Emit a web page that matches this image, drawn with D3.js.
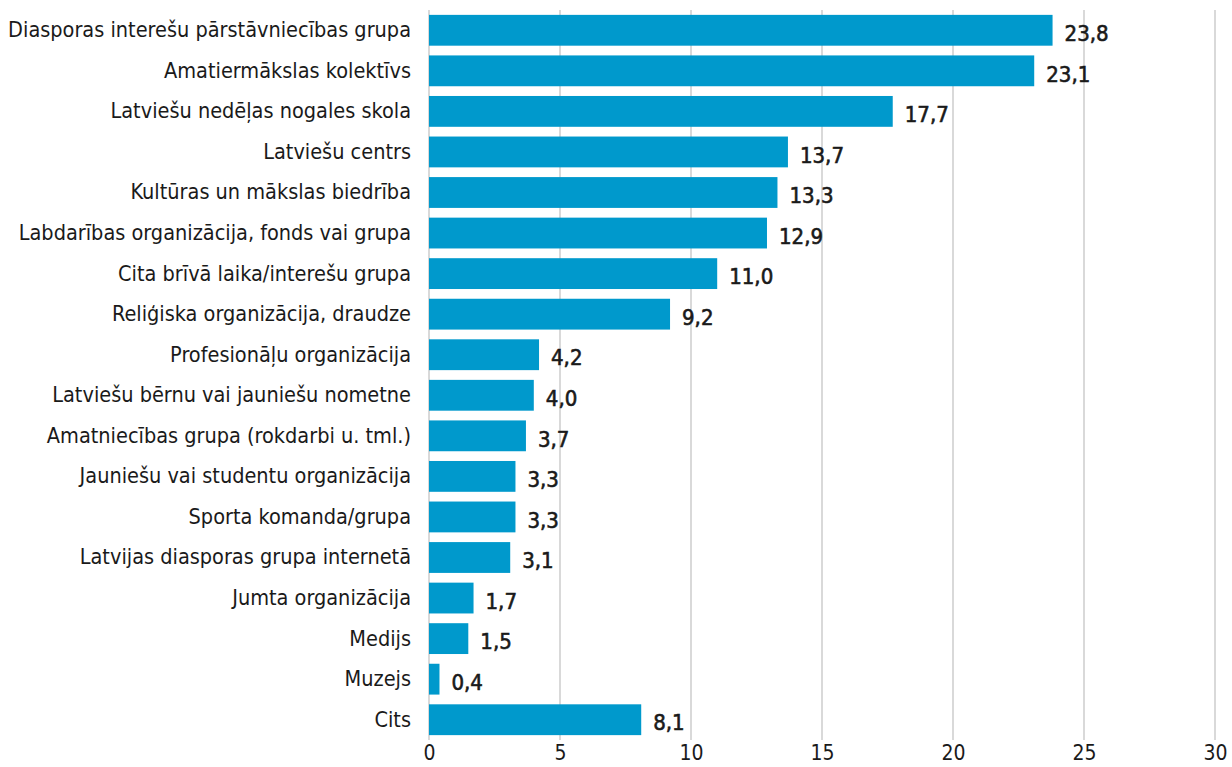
<!DOCTYPE html>
<html>
<head>
<meta charset="utf-8">
<script src="https://cdn.jsdelivr.net/npm/d3@7"></script>
<style>
  body { margin: 0; background: #fff; }
  text { font-family: "DejaVu Sans Condensed", "Liberation Sans Narrow", sans-serif; fill: #1a1a1a; }
</style>
</head>
<body>
<svg width="1232" height="767"></svg>
<script>
const categories = [
  "Diasporas interešu pārstāvniecības grupa",
  "Amatiermākslas kolektīvs",
  "Latviešu nedēļas nogales skola",
  "Latviešu centrs",
  "Kultūras un mākslas biedrība",
  "Labdarības organizācija, fonds vai grupa",
  "Cita brīvā laika/interešu grupa",
  "Reliģiska organizācija, draudze",
  "Profesionāļu organizācija",
  "Latviešu bērnu vai jauniešu nometne",
  "Amatniecības grupa (rokdarbi u. tml.)",
  "Jauniešu vai studentu organizācija",
  "Sporta komanda/grupa",
  "Latvijas diasporas grupa internetā",
  "Jumta organizācija",
  "Medijs",
  "Muzejs",
  "Cits"
]
const values = [23.8, 23.1, 17.7, 13.7, 13.3, 12.9, 11.0, 9.2, 4.2, 4.0, 3.7, 3.3, 3.3, 3.1, 1.7, 1.5, 0.4, 8.1]
const xTicks = [0, 5, 10, 15, 20, 25, 30]

const marge = {top: 10, right: 17, bottom: 27, left: 429}
const width = 1232, height = 767

const svg = d3.select('svg')
const g = svg.append('g').attr('transform', 'translate(' + marge.left + ',' + marge.top + ')')
const w = width - marge.left - marge.right
const h = height - marge.top - marge.bottom

const x = d3.scaleLinear().domain([0, 30]).range([0, w])
const y = d3.scaleBand().domain(categories).range([0, h]).paddingInner(0.24).paddingOuter(0.12)

// 网格线
g.append('g').selectAll('line').data(xTicks).enter().append('line')
  .attr('x1', d => x(d)).attr('x2', d => x(d))
  .attr('y1', 0).attr('y2', h)
  .attr('stroke', '#d9d9d9').attr('stroke-width', 2)

// x 轴
const xAxis = g.append('g').attr('transform', 'translate(0,' + h + ')')
  .call(d3.axisBottom(x).tickValues(xTicks).tickSize(0).tickPadding(5))
xAxis.select('.domain').remove()
xAxis.selectAll('text').style('font-size', '21px').attr('fill', '#1a1a1a')

// y 轴
const yAxis = g.append('g')
  .call(d3.axisLeft(y).tickSize(0).tickPadding(18))
yAxis.select('.domain').remove()
yAxis.selectAll('text').style('font-size', '21.5px').attr('fill', '#1a1a1a')

// 条形
g.selectAll('.bar').data(values).enter().append('rect')
  .attr('x', 0)
  .attr('y', (d, i) => y(categories[i]))
  .attr('width', d => x(d))
  .attr('height', y.bandwidth())
  .attr('fill', '#0099cc')

// 数值标签
g.selectAll('.val').data(values).enter().append('text')
  .attr('x', d => x(d) + 12)
  .attr('y', (d, i) => y(categories[i]) + y.bandwidth() / 2 + 3)
  .attr('dy', '0.35em')
  .style('font-size', '22px')
  .attr('stroke', '#1a1a1a')
  .attr('stroke-width', 0.6)
  .text(d => d.toFixed(1).replace('.', ','))
</script>
</body>
</html>
